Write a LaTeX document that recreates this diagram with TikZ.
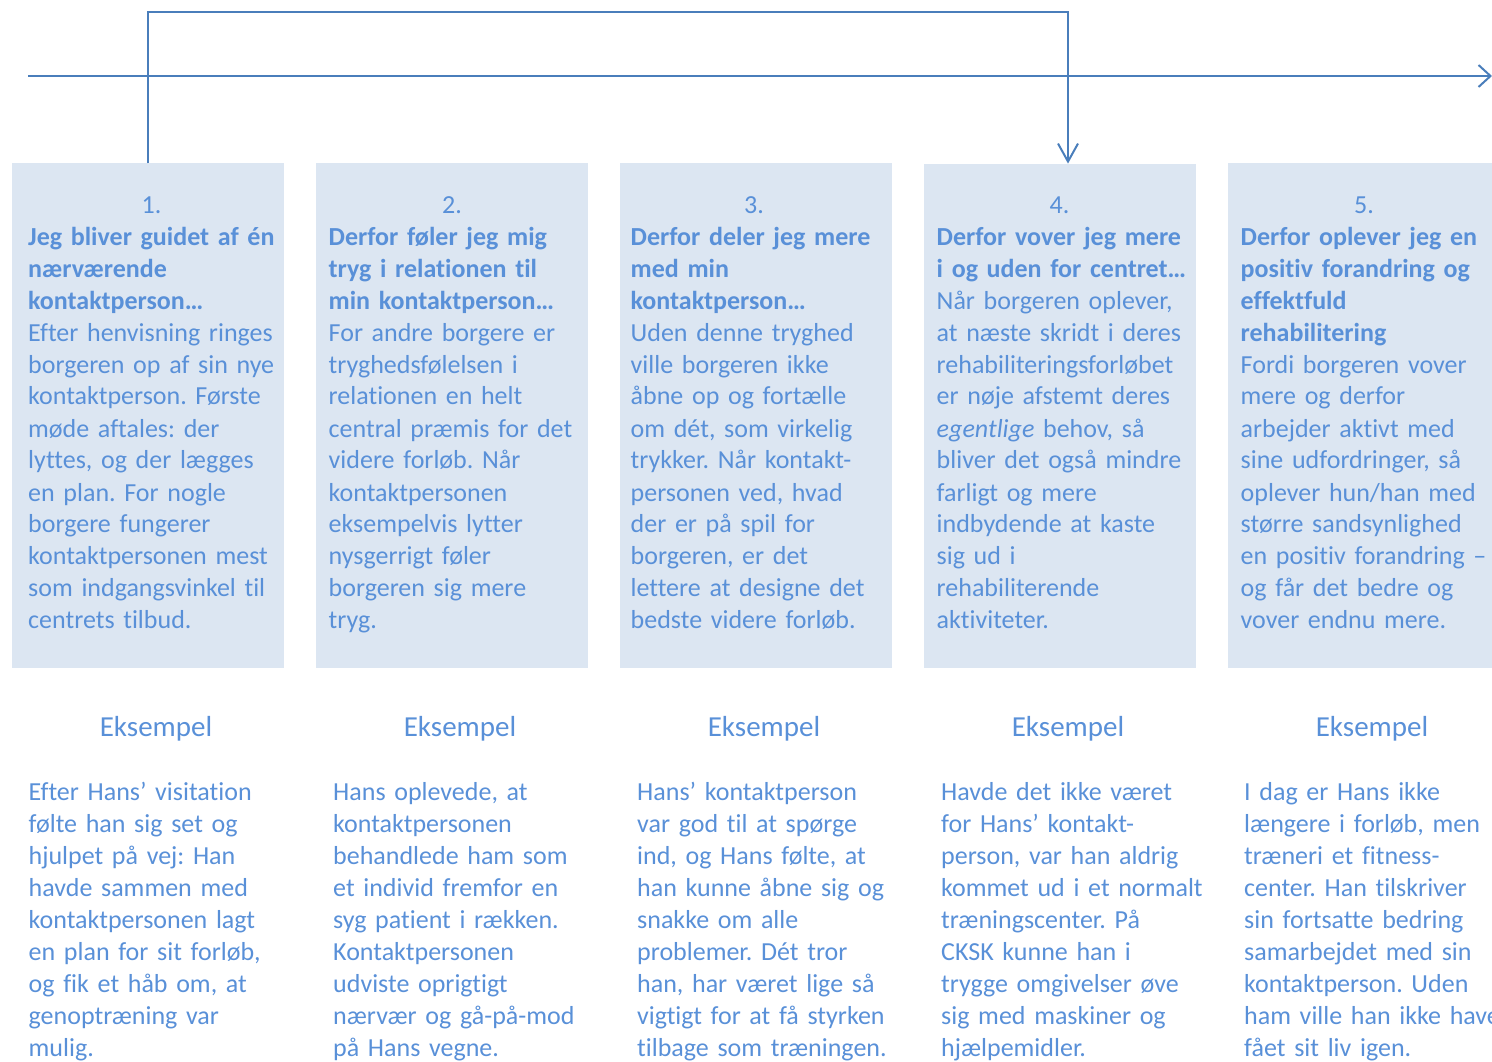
\documentclass[tikz,border=0pt]{standalone}
\usepackage{fontspec}
\setmainfont{Carlito}[Ligatures={TeX,NoCommon}]
\usetikzlibrary{arrows.meta}
\definecolor{txt}{HTML}{5990D8}
\definecolor{boxfill}{HTML}{DCE6F2}
\definecolor{linec}{HTML}{4A7EBB}
\frenchspacing
\begin{document}
\begin{tikzpicture}[x=1pt,y=-1pt,
  box/.style={fill=boxfill, draw=none, minimum width=272pt, minimum height=504pt, inner sep=0pt},
  num/.style={anchor=base, inner sep=0pt, text=txt, font=\fontsize{26}{32}\selectfont},
  body/.style={anchor=base west, inner sep=0pt, text=txt, text width=280pt, align=left, font=\fontsize{26}{32}\selectfont\frenchspacing},
  ex/.style={anchor=base, inner sep=0pt, text=txt, font=\fontsize{29}{34}\selectfont},
  conn/.style={draw=linec, line width=2pt},
]
\useasboundingbox (0,0) rectangle (1492,1062);

% boxes
\node[box] (b1) at (148,415.5) {};
\node[box] (b2) at (452,415.5) {};
\node[box] (b3) at (756,415.5) {};
\node[box] (b4) at (1060,415.8) {};
\node[box] (b5) at (1364,415.5) {};

% connectors
\coordinate (axL) at (28,76);
\coordinate (axR) at (1492,76);
\draw[conn,-{Straight Barb[length=12pt,width=22pt]}] (axL) -- (axR);
\coordinate (t4) at (1068,12);
\draw[conn,-{Straight Barb[length=18pt,width=20pt]}] (b1.north) |- (t4) -- (t4 |- b4.north);

% numbers
\node[num] (n1) at (151.5,213) {1.};
\node[num] (n2) at (452,213) {2.};
\node[num] (n3) at (754,213) {3.};
\node[num] (n4) at (1059.5,213) {4.};
\node[num] (n5) at (1364,213) {5.};

% box texts
\node[body] (c1) at (28,245) {\textbf{Jeg bliver guidet af én}\\\textbf{nærværende}\\\textbf{kontaktperson…}\\Efter henvisning ringes\\borgeren op af sin nye\\kontaktperson. Første\\møde aftales: der\\lyttes, og der lægges\\en plan. For nogle\\borgere fungerer\\kontaktpersonen mest\\som indgangsvinkel til\\centrets tilbud.};
\node[body] (c2) at (328.5,245) {\textbf{Derfor føler jeg mig}\\\textbf{tryg i relationen til}\\\textbf{min kontaktperson…}\\For andre borgere er\\tryghedsfølelsen i\\relationen en helt\\central præmis for det\\videre forløb. Når\\kontaktpersonen\\eksempelvis lytter\\nysgerrigt føler\\borgeren sig mere\\tryg.};
\node[body] (c3) at (630.5,245) {\textbf{Derfor deler jeg mere}\\\textbf{med min}\\\textbf{kontaktperson…}\\Uden denne tryghed\\ville borgeren ikke\\åbne op og fortælle\\om dét, som virkelig\\trykker. Når kontakt-\\personen ved, hvad\\der er på spil for\\borgeren, er det\\lettere at designe det\\bedste videre forløb.};
\node[body] (c4) at (936.5,245) {\textbf{Derfor vover jeg mere}\\\textbf{i og uden for centret…}\\Når borgeren oplever,\\at næste skridt i deres\\rehabiliteringsforløbet\\er nøje afstemt deres\\\textit{egentlige} behov, så\\bliver det også mindre\\farligt og mere\\indbydende at kaste\\sig ud i\\rehabiliterende\\aktiviteter.};
\node[body] (c5) at (1240.5,245) {\textbf{Derfor oplever jeg en}\\\textbf{positiv forandring og}\\\textbf{effektfuld}\\\textbf{rehabilitering}\\Fordi borgeren vover\\mere og derfor\\arbejder aktivt med\\sine udfordringer, så\\oplever hun/han med\\større sandsynlighed\\en positiv forandring –\\og får det bedre og\\vover endnu mere.};

% Eksempel headings
\node[ex] (e1) at (156,736.5) {Eksempel};
\node[ex] (e2) at (460,736.5) {Eksempel};
\node[ex] (e3) at (764,736.5) {Eksempel};
\node[ex] (e4) at (1068,736.5) {Eksempel};
\node[ex] (e5) at (1372,736.5) {Eksempel};

% example texts
\node[body] (x1) at (28.5,800.5) {Efter Hans’ visitation\\følte han sig set og\\hjulpet på vej: Han\\havde sammen med\\kontaktpersonen lagt\\en plan for sit forløb,\\og fik et håb om, at\\genoptræning var\\mulig.};
\node[body] (x2) at (333,800.5) {Hans oplevede, at\\kontaktpersonen\\behandlede ham som\\et individ fremfor en\\syg patient i rækken.\\Kontaktpersonen\\udviste oprigtigt\\nærvær og gå-på-mod\\på Hans vegne.};
\node[body] (x3) at (637,800.5) {Hans’ kontaktperson\\var god til at spørge\\ind, og Hans følte, at\\han kunne åbne sig og\\snakke om alle\\problemer. Dét tror\\han, har været lige så\\vigtigt for at få styrken\\tilbage som træningen.};
\node[body] (x4) at (941,800.5) {Havde det ikke været\\for Hans’ kontakt-\\person, var han aldrig\\kommet ud i et normalt\\træningscenter. På\\CKSK kunne han i\\trygge omgivelser øve\\sig med maskiner og\\hjælpemidler.};
\node[body] (x5) at (1244,800.5) {I dag er Hans ikke\\længere i forløb, men\\træneri et fitness-\\center. Han tilskriver\\sin fortsatte bedring\\samarbejdet med sin\\kontaktperson. Uden\\ham ville han ikke have\\fået sit liv igen.};
\end{tikzpicture}
\end{document}
